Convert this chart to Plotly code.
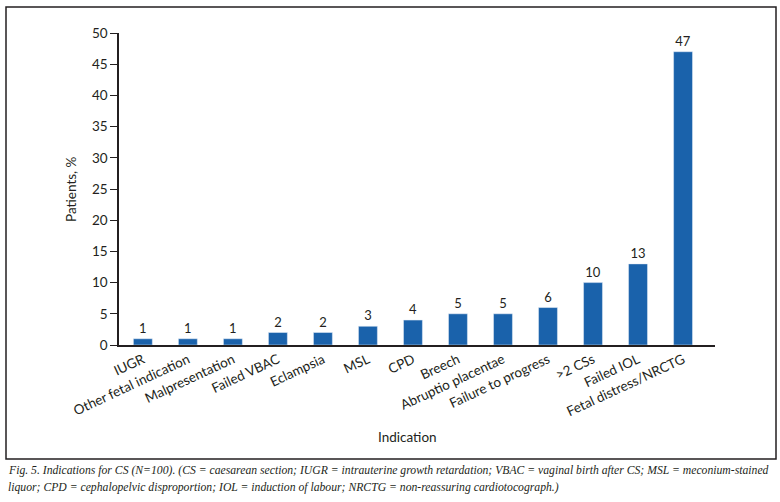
import plotly.graph_objects as go

categories = ["IUGR", "Other fetal indication", "Malpresentation", "Failed VBAC", "Eclampsia",
              "MSL", "CPD", "Breech", "Abruptio placentae", "Failure to progress",
              ">2 CSs", "Failed IOL", "Fetal distress/NRCTG"]
values = [1, 1, 1, 2, 2, 3, 4, 5, 5, 6, 10, 13, 47]
y_ticks = [0, 5, 10, 15, 20, 25, 30, 35, 40, 45, 50]

W, H = 780, 502
L, R, T, B = 119, 715, 33, 345

def px_x(p):
    return (p - L) / (R - L)

def px_y(p):
    return (B - p) / (B - T)

fig = go.Figure(go.Bar(
    x=categories, y=values, text=[str(v) for v in values],
    textposition="outside", cliponaxis=False,
    textfont=dict(size=13, color="#231f20", family="Lato"),
    marker=dict(color="#1a62ab"), width=0.42,
))

caption1 = ("Fig. 5. Indications for CS (N=100). (CS = caesarean section; IUGR = intrauterine growth retardation; "
            "VBAC = vaginal birth after CS; MSL = meconium-stained")
caption2 = ("liquor; CPD = cephalopelvic disproportion; IOL = induction of labour; "
            "NRCTG = non-reassuring cardiotocograph.)")

fig.update_layout(
    width=W, height=H,
    margin=dict(l=L, r=W - R, t=T, b=H - B),
    paper_bgcolor="white", plot_bgcolor="white",
    font=dict(family="Lato", size=13, color="#231f20"),
    showlegend=False,
    xaxis=dict(range=[-0.53, 12.71], tickangle=-25, showline=True, linecolor="#231f20",
               linewidth=1.5, ticks="", showgrid=False, tickfont=dict(size=13.5)),
    yaxis=dict(range=[0, 50], tickvals=y_ticks, showline=True, linecolor="#231f20",
               linewidth=1.5, ticks="outside", ticklen=7, tickwidth=1.2, tickcolor="#231f20",
               showgrid=False, zeroline=False, tickfont=dict(size=13.5)),
    shapes=[dict(type="rect", xref="paper", yref="paper",
                 x0=px_x(6), x1=px_x(776), y0=px_y(459), y1=px_y(7),
                 line=dict(color="#231f20", width=1.5), fillcolor="rgba(0,0,0,0)")],
    annotations=[
        dict(text="Patients, %", xref="paper", yref="paper", x=px_x(71), y=px_y(189),
             xanchor="center", yanchor="middle",
             showarrow=False, textangle=-90, font=dict(size=13.5)),
        dict(text="Indication", xref="paper", yref="paper", x=px_x(407), y=px_y(437),
             xanchor="center", yanchor="middle",
             showarrow=False, font=dict(size=13.5)),
        dict(text="<i>" + caption1 + "</i>", xref="paper", yref="paper", x=px_x(6), y=px_y(470),
             xanchor="left", yanchor="middle", showarrow=False,
             font=dict(family="Liberation Serif", size=11.7, color="#231f20")),
        dict(text="<i>" + caption2 + "</i>", xref="paper", yref="paper", x=px_x(6), y=px_y(487),
             xanchor="left", yanchor="middle", showarrow=False,
             font=dict(family="Liberation Serif", size=11.7, color="#231f20")),
    ],
)

fig.write_html("out.html", config={"displayModeBar": False},
               post_script="document.body.style.margin='0';document.body.style.overflow='hidden';")
